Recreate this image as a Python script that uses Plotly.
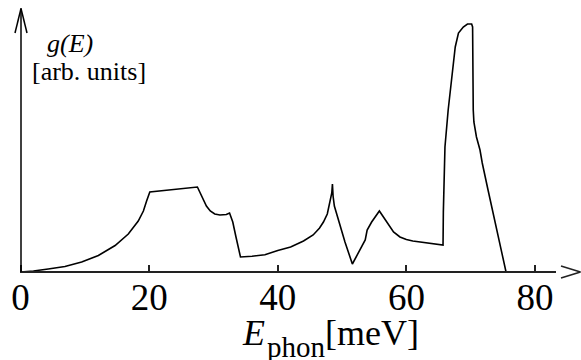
import plotly.graph_objects as go

# Phonon energy (meV) and density of states g(E) (arb. units)
energy = [0, 2, 4.3, 6.9, 9.5, 12.1, 14.7, 16.75, 18.3, 19.1, 19.6, 19.9, 20.1,
          27.5, 28.2, 28.9, 29.5, 30.2, 31, 32, 32.5, 33, 33.5, 34.2,
          36, 38, 40, 42, 44, 45.5, 46.5, 47.1, 47.7, 48.1, 48.4, 48.5,
          48.6, 48.8, 49.4, 50.45, 51.6,
          52.8, 53.6, 53.9, 54.6, 55.8,
          56.5, 57.3, 58, 59, 60, 61, 62, 63, 64.2, 65.7,
          65.75, 65.85, 66.0, 66.5, 67.05, 67.6, 68.1, 68.85, 69.5, 70.15, 70.3,
          70.3, 70.4, 70.5, 70.9, 71.45, 71.8, 72.7, 74.0, 75.5]
dos = [0, 1, 3, 5.5, 10, 16.5, 26.5, 38, 51, 61, 71, 78, 80,
       85, 75, 66, 61, 58, 57, 57.5, 59, 50, 35, 15,
       15.8, 17.3, 21.5, 25, 31, 37, 44, 50, 58, 69, 79, 88,
       76, 66, 52, 30, 8,
       22, 32, 42, 50, 61,
       54, 46, 40, 35, 32.5, 31, 30, 29, 28, 27,
       60, 100, 125, 162, 195, 225, 239, 245, 248, 248, 245,
       195, 162, 150, 135, 122, 109, 82, 45, 0]
tick_vals = [0, 20, 40, 60, 80]
tick_text = ["0", "20", "40", "60", "80"]

W, H = 581, 360
PLOT_H = 300
XR = [-3.2, -3.2 + W / 6.43]
YR = [-28, 272]
SERIF = "'Liberation Serif', 'DejaVu Serif', serif"

fig = go.Figure()
fig.add_trace(go.Scatter(x=energy, y=dos, mode="lines",
                         line=dict(color="black", width=1.6, shape="linear"),
                         hoverinfo="skip", showlegend=False))

def px2x(px):
    return XR[0] + px / 6.43

def py2y(py):
    return 272 - py

axis_col = "#222222"
shapes = [
    # x axis line and open arrowhead
    dict(type="line", xref="x", yref="y", x0=px2x(20), x1=px2x(556), y0=0, y1=0,
         line=dict(color=axis_col, width=2)),
    dict(type="line", xref="x", yref="y", x0=px2x(561), x1=px2x(580.5), y0=py2y(266), y1=py2y(272),
         line=dict(color=axis_col, width=1.5)),
    dict(type="line", xref="x", yref="y", x0=px2x(561), x1=px2x(580.5), y0=py2y(278), y1=py2y(272),
         line=dict(color=axis_col, width=1.5)),
    # y axis line and open arrowhead
    dict(type="line", xref="x", yref="y", x0=px2x(21), x1=px2x(21), y0=0, y1=py2y(8.5),
         line=dict(color="black", width=1.5)),
    dict(type="line", xref="x", yref="y", x0=px2x(15), x1=px2x(21), y0=py2y(33), y1=py2y(8.5),
         line=dict(color="black", width=1.5)),
    dict(type="line", xref="x", yref="y", x0=px2x(27), x1=px2x(21), y0=py2y(33), y1=py2y(8.5),
         line=dict(color="black", width=1.5)),
]

def ann(text, px, py, size, italic=False, xanchor="left"):
    return dict(text=text, xref="paper", yref="paper",
                x=px / W, y=(PLOT_H - py) / PLOT_H, xanchor=xanchor, yanchor="middle",
                showarrow=False, borderpad=0,
                font=dict(family=SERIF, size=size, color="black",
                          style="italic" if italic else "normal"))

annotations = [
    ann("g(E)", 46, 43.5, 26, italic=True),
    ann("[arb. units]", 31, 71.5, 26),
    ann("E", 241, 333, 36, italic=True),
    ann("phon", 266, 347.5, 29),
    ann("[meV]", 324, 333, 36),
]

fig.update_layout(
    width=W, height=H,
    margin=dict(l=0, r=0, t=0, b=H - PLOT_H),
    paper_bgcolor="white", plot_bgcolor="white",
    font=dict(family=SERIF),
    shapes=shapes, annotations=annotations,
    xaxis=dict(range=XR, tickvals=tick_vals, ticktext=tick_text,
               ticks="inside", ticklen=7, tickwidth=1.5, tickcolor=axis_col,
               showgrid=False, zeroline=False, showline=False,
               anchor="free", position=28 / PLOT_H,
               tickfont=dict(family=SERIF, size=37, color="black")),
    yaxis=dict(range=YR, showgrid=False, zeroline=False, showline=False,
               showticklabels=False, ticks=""),
)

fig.write_html("out.html", config={"displayModeBar": False},
               post_script="document.body.style.margin='0';document.body.style.overflow='hidden';")
